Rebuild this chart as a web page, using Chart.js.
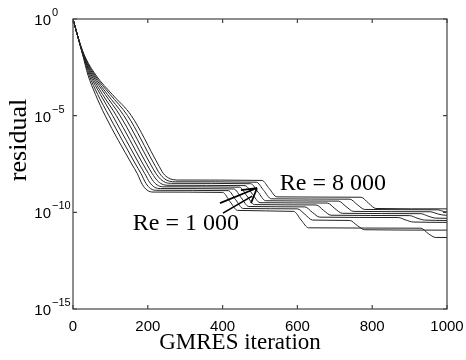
<!DOCTYPE html>
<html>
<head>
<meta charset="utf-8">
<script src="https://cdn.jsdelivr.net/npm/chart.js@4.4.0/dist/chart.umd.min.js"></script>
<style>
  html, body { margin: 0; padding: 0; background: #fff; }
  canvas { display: block; }
</style>
</head>
<body>
<canvas id="canvas" width="466" height="360"></canvas>
<script>
// GMRES residual history, one run per Reynolds number
var reynolds = [1000, 2000, 3000, 4000, 5000, 6000, 7000, 8000];

var iter1000 = [0, 12, 26, 40, 60, 86, 157, 172, 185, 198, 214, 400, 420, 440, 590, 610, 630, 930, 950, 970, 1000];
var res1000  = [1, 0.141, 1.41e-2, 1.26e-3, 1.26e-4, 1e-5, 3.16e-8, 1e-8, 2.82e-9, 1.41e-9, 1.12e-9, 1.07e-9, 3.55e-10, 1.26e-10, 1.12e-10, 3.98e-11, 1.58e-11, 1.51e-11, 7.94e-12, 5.01e-12, 5.01e-12];

var iter2000 = [0, 12, 26, 43, 66, 96, 167, 182, 195, 208, 224, 415, 435, 455, 600, 620, 640, 740, 760, 780, 1000];
var res2000  = [1, 0.141, 1.41e-2, 1.26e-3, 1.26e-4, 1e-5, 3.16e-8, 1e-8, 3.16e-9, 1.66e-9, 1.38e-9, 1.32e-9, 4.47e-10, 1.58e-10, 1.51e-10, 7.94e-11, 3.98e-11, 3.8e-11, 2.09e-11, 1.26e-11, 1.2e-11];

var iter3000 = [0, 12, 27, 46, 73, 106, 177, 192, 205, 218, 234, 430, 450, 470, 620, 640, 660, 870, 890, 910, 1000];
var res3000  = [1, 0.141, 1.41e-2, 1.26e-3, 1.26e-4, 1e-5, 3.16e-8, 1e-8, 3.55e-9, 2e-9, 1.7e-9, 1.62e-9, 5.62e-10, 2e-10, 1.91e-10, 1e-10, 5.62e-11, 5.37e-11, 3.98e-11, 3.16e-11, 3.02e-11];

var iter4000 = [0, 12, 27, 49, 79, 116, 187, 202, 215, 228, 244, 445, 465, 485, 650, 670, 690, 900, 920, 940, 1000];
var res4000  = [1, 0.141, 1.41e-2, 1.26e-3, 1.26e-4, 1e-5, 3.16e-8, 1e-8, 3.98e-9, 2.4e-9, 2.09e-9, 2e-9, 7.08e-10, 2.51e-10, 2.4e-10, 1.26e-10, 7.08e-11, 6.76e-11, 5.01e-11, 3.98e-11, 3.8e-11];

var iter5000 = [0, 12, 28, 52, 86, 126, 197, 212, 225, 238, 254, 460, 480, 500, 680, 700, 720, 930, 950, 970, 1000];
var res5000  = [1, 0.141, 1.41e-2, 1.26e-3, 1.26e-4, 1e-5, 3.16e-8, 1e-8, 4.47e-9, 2.88e-9, 2.51e-9, 2.4e-9, 8.71e-10, 3.16e-10, 3.02e-10, 1.58e-10, 8.91e-11, 8.51e-11, 6.31e-11, 5.01e-11, 4.9e-11];

var iter6000 = [0, 12, 28, 55, 92, 136, 207, 222, 235, 248, 264, 475, 495, 515, 710, 730, 750, 955, 975, 995, 1000];
var res6000  = [1, 0.141, 1.41e-2, 1.26e-3, 1.26e-4, 1e-5, 3.16e-8, 1e-8, 5.01e-9, 3.47e-9, 3.16e-9, 3.02e-9, 1.1e-9, 3.98e-10, 3.8e-10, 2e-10, 1.12e-10, 1.07e-10, 8.32e-11, 7.08e-11, 7.08e-11];

var iter7000 = [0, 12, 29, 58, 99, 146, 217, 232, 245, 258, 274, 490, 510, 530, 740, 760, 780, 975, 990, 1000];
var res7000  = [1, 0.141, 1.41e-2, 1.26e-3, 1.26e-4, 1e-5, 3.16e-8, 1e-8, 5.37e-9, 4.07e-9, 3.8e-9, 3.63e-9, 1.35e-9, 5.01e-10, 4.79e-10, 2.51e-10, 1.41e-10, 1.35e-10, 1.12e-10, 1.02e-10];

var iter8000 = [0, 12, 30, 61, 105, 156, 227, 242, 255, 268, 284, 505, 525, 545, 770, 790, 810, 1000];
var res8000  = [1, 0.141, 1.41e-2, 1.26e-3, 1.26e-4, 1e-5, 3.16e-8, 1e-8, 6.03e-9, 4.9e-9, 4.68e-9, 4.47e-9, 1.66e-9, 6.31e-10, 6.03e-10, 3.02e-10, 1.58e-10, 1.51e-10];

var iterations = [iter1000, iter2000, iter3000, iter4000, iter5000, iter6000, iter7000, iter8000];
var residuals  = [res1000, res2000, res3000, res4000, res5000, res6000, res7000, res8000];

var xTicks = [0, 200, 400, 600, 800, 1000];
var yTicks = [1e-15, 1e-10, 1e-5, 1];

// labels on the plot, anchored in data coordinates
var labelHigh = { text: 'Re = 8 000', x: 553, y: 2.9e-9 };
var labelLow  = { text: 'Re = 1 000', x: 160, y: 2.5e-11 };
var arrowLines = [
    [[393, 3.0e-10], [492, 1.8e-9]],
    [[401, 9.1e-11], [479, 6.9e-10]],
    [[449, 1.4e-9], [492, 1.8e-9]],
    [[476, 3.0e-10], [492, 1.8e-9]]
];

var datasets = reynolds.map(function(re, i) {
    return {
        label: 'Re = ' + re,
        data: iterations[i].map(function(x, k) { return { x: x, y: residuals[i][k] }; }),
        borderColor: '#222',
        borderWidth: 1,
        pointRadius: 0,
        fill: false,
        cubicInterpolationMode: 'monotone'
    };
});

var frame = {
    id: 'frame',
    afterDatasetsDraw: function(chart) {
        var c = chart.ctx, a = chart.chartArea;
        var xs = chart.scales.x, ys = chart.scales.y;
        c.save();
        c.strokeStyle = '#444';
        c.lineWidth = 1.2;
        c.strokeRect(a.left, a.top, a.right - a.left, a.bottom - a.top);

        // tick marks pointing inwards
        c.beginPath();
        xTicks.forEach(function(v) {
            var p = xs.getPixelForValue(v);
            c.moveTo(p, a.bottom); c.lineTo(p, a.bottom - 4);
            c.moveTo(p, a.top); c.lineTo(p, a.top + 4);
        });
        yTicks.forEach(function(v) {
            var p = ys.getPixelForValue(v);
            c.moveTo(a.left, p); c.lineTo(a.left + 4, p);
            c.moveTo(a.right, p); c.lineTo(a.right - 4, p);
        });
        c.stroke();

        // y tick labels as 10 with a raised exponent
        c.fillStyle = '#000';
        yTicks.forEach(function(v) {
            var p = ys.getPixelForValue(v);
            var e = Math.round(Math.log10(v));
            c.font = '15px "Liberation Sans"';
            c.textAlign = 'right';
            c.textBaseline = 'middle';
            c.fillText('10', a.left - 22, p + 2);
            c.font = '11px "Liberation Sans"';
            c.textAlign = 'left';
            c.fillText(e === 0 ? '0' : '\u2212' + (-e), a.left - 21, p - 6);
        });

        // axis titles
        c.font = '23px "Liberation Serif"';
        c.textAlign = 'center';
        c.textBaseline = 'middle';
        c.fillText('GMRES iteration', a.left + 167, a.bottom + 34);
        c.save();
        c.translate(19, a.top + 121);
        c.rotate(-Math.PI / 2);
        c.font = '26px "Liberation Serif"';
        c.fillText('residual', 0, 0);
        c.restore();

        // Reynolds labels and arrow
        c.font = '24px "Liberation Serif"';
        c.textAlign = 'left';
        [labelHigh, labelLow].forEach(function(l) {
            c.fillText(l.text, xs.getPixelForValue(l.x), ys.getPixelForValue(l.y));
        });
        c.strokeStyle = '#000';
        c.lineWidth = 1.7;
        c.beginPath();
        arrowLines.forEach(function(s) {
            c.moveTo(xs.getPixelForValue(s[0][0]), ys.getPixelForValue(s[0][1]));
            c.lineTo(xs.getPixelForValue(s[1][0]), ys.getPixelForValue(s[1][1]));
        });
        c.stroke();
        c.restore();
    }
};

try {
    var ctx = document.getElementById('canvas').getContext('2d');
    var myChart = new Chart(ctx, {
        type: 'line',
        data: { datasets: datasets },
        options: {
            responsive: false,
            animation: false,
            layout: { padding: { top: 19, right: 19, left: 0, bottom: 0 } },
            plugins: { legend: { display: false }, tooltip: { enabled: false } },
            scales: {
                x: {
                    type: 'linear',
                    min: 0,
                    max: 1000,
                    afterBuildTicks: function(s) { s.ticks = xTicks.map(function(v) { return { value: v }; }); },
                    afterFit: function(s) { s.height = 51; },
                    grid: { display: false },
                    border: { display: false },
                    ticks: {
                        color: '#000',
                        font: { family: 'Liberation Sans', size: 15 },
                        padding: 1,
                        maxRotation: 0,
                        autoSkip: false,
                        callback: function(v) { return String(v); }
                    }
                },
                y: {
                    type: 'logarithmic',
                    min: 1e-15,
                    max: 1,
                    afterBuildTicks: function(s) { s.ticks = yTicks.map(function(v) { return { value: v }; }); },
                    afterFit: function(s) { s.width = 73; },
                    grid: { display: false },
                    border: { display: false },
                    ticks: { display: false }
                }
            }
        },
        plugins: [frame]
    });
} catch (e) {
    console.log(e.message);
}
</script>
</body>
</html>
